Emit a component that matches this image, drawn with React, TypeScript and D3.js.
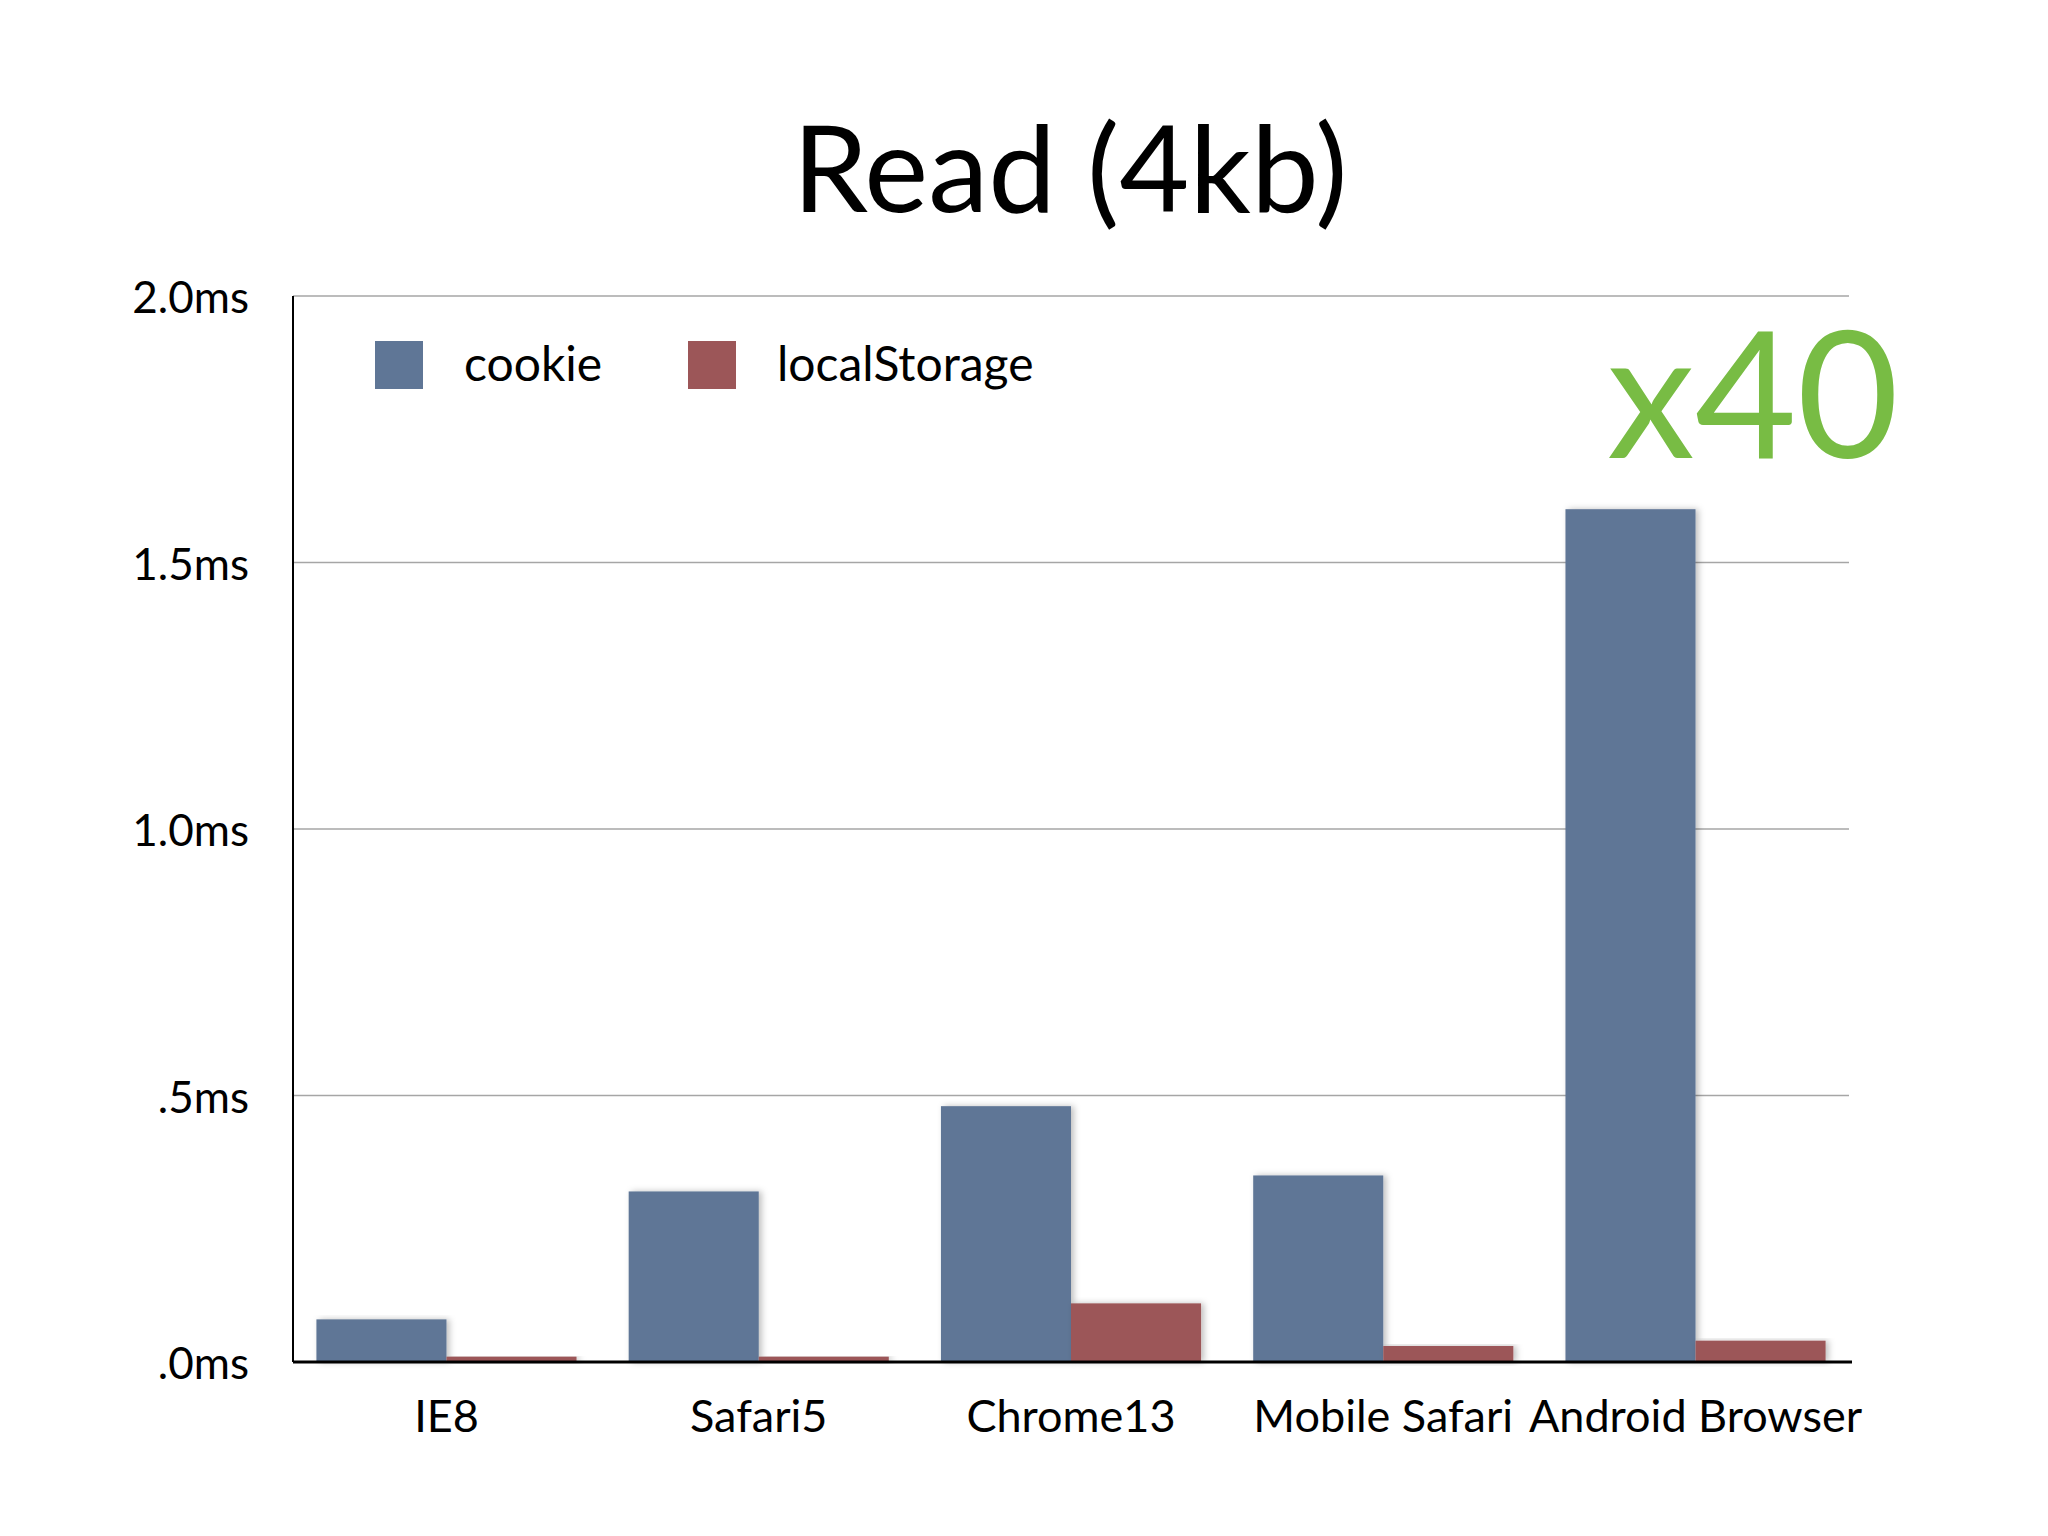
import React, { ReactElement, useEffect, useRef } from "react";
import * as d3 from "d3";

const categories = ["IE8", "Safari5", "Chrome13", "Mobile Safari", "Android Browser"];
const seriesNames = ["cookie", "localStorage"];
const cookieMs = [0.08, 0.32, 0.48, 0.35, 1.6];
const localStorageMs = [0.01, 0.01, 0.11, 0.03, 0.04];
const yTicks = [0, 0.5, 1.0, 1.5, 2.0];
const yTickLabels = [".0ms", ".5ms", "1.0ms", "1.5ms", "2.0ms"];

const colors = ["#5f7696", "#9c5658"];
const FONT = "Lato, 'Open Sans', sans-serif";

function App(): ReactElement {
  const ref = useRef<SVGSVGElement>(null);

  useEffect(() => {
    drawChart();
  });

  const drawChart = () => {
    const svg = d3.select(ref.current);
    svg.selectAll("*").remove();

    const left = 293;
    const right = 1852;
    const top = 296;
    const bottom = 1362;

    const x = d3
      .scaleBand()
      .domain(categories)
      .range([left, left + 1556])
      .paddingInner(0.167)
      .paddingOuter(0.075);
    const xSub = d3.scaleBand().domain(seriesNames).range([0, x.bandwidth()]);
    const y = d3.scaleLinear().domain([0, 2]).range([bottom, top]);

    const defs = svg.append("defs");
    const shadow = defs
      .append("filter")
      .attr("id", "barShadow")
      .attr("x", "-10%")
      .attr("y", "-10%")
      .attr("width", "130%")
      .attr("height", "130%");
    shadow
      .append("feDropShadow")
      .attr("dx", 3)
      .attr("dy", 0)
      .attr("stdDeviation", 3)
      .attr("flood-color", "#000")
      .attr("flood-opacity", 0.25);

    // title
    svg
      .append("text")
      .attr("x", 1070)
      .attr("y", 212)
      .attr("text-anchor", "middle")
      .attr("font-family", FONT)
      .attr("font-size", 121)
      .attr("fill", "#000")
      .text("Read (4kb)");

    // gridlines
    svg
      .selectAll(".grid")
      .data(yTicks.filter((t) => t > 0))
      .enter()
      .append("line")
      .attr("x1", left)
      .attr("x2", right - 3)
      .attr("y1", (d) => y(d))
      .attr("y2", (d) => y(d))
      .attr("stroke", "#a6a6a6")
      .attr("stroke-width", 1.6);

    // y tick labels
    svg
      .selectAll(".ytick")
      .data(yTicks)
      .enter()
      .append("text")
      .attr("x", 249)
      .attr("y", (d) => y(d) + 17)
      .attr("text-anchor", "end")
      .attr("font-family", FONT)
      .attr("font-size", 44)
      .attr("fill", "#000")
      .text((d, i) => yTickLabels[i]);

    // bars
    const rows = categories.map((c, i) => ({
      category: c,
      values: [cookieMs[i], localStorageMs[i]],
    }));
    const groups = svg
      .selectAll(".group")
      .data(rows)
      .enter()
      .append("g")
      .attr("transform", (d) => `translate(${x(d.category)},0)`);
    groups
      .selectAll("rect")
      .data((d) => d.values.map((v, j) => ({ name: seriesNames[j], value: v, idx: j })))
      .enter()
      .append("rect")
      .attr("x", (d) => xSub(d.name) || 0)
      .attr("width", xSub.bandwidth())
      .attr("y", (d) => y(d.value))
      .attr("height", (d) => bottom - y(d.value))
      .attr("fill", (d) => colors[d.idx])
      .attr("filter", "url(#barShadow)");

    // axes lines
    svg
      .append("line")
      .attr("x1", left)
      .attr("x2", left)
      .attr("y1", top)
      .attr("y2", bottom)
      .attr("stroke", "#000")
      .attr("stroke-width", 2);
    svg
      .append("line")
      .attr("x1", left)
      .attr("x2", right)
      .attr("y1", bottom)
      .attr("y2", bottom)
      .attr("stroke", "#000")
      .attr("stroke-width", 3);

    // category labels
    svg
      .selectAll(".xlabel")
      .data(categories)
      .enter()
      .append("text")
      .attr("x", (d) => (x(d) || 0) + x.bandwidth() / 2)
      .attr("y", 1432)
      .attr("text-anchor", "middle")
      .attr("font-family", FONT)
      .attr("font-size", 45)
      .attr("fill", "#000")
      .text((d) => d);

    // legend
    const legendX = [375, 688];
    const legend = svg
      .selectAll(".legend")
      .data(seriesNames)
      .enter()
      .append("g")
      .attr("transform", (d, i) => `translate(${legendX[i]},341)`);
    legend
      .append("rect")
      .attr("width", 48)
      .attr("height", 48)
      .attr("fill", (d, i) => colors[i]);
    legend
      .append("text")
      .attr("x", 89)
      .attr("y", 40)
      .attr("font-family", FONT)
      .attr("font-size", 48)
      .attr("fill", "#000")
      .text((d) => d);

    // annotation
    svg
      .append("text")
      .attr("x", 1607)
      .attr("y", 458)
      .attr("font-family", FONT)
      .attr("font-size", 176)
      .attr("fill", "#78bc44")
      .text("x40");
  };

  return (
    <div>
      <svg
        ref={ref}
        width={2048}
        height={1536}
        style={{ position: "absolute", left: 0, top: 0, background: "#fff" }}
      ></svg>
    </div>
  );
}

export default App;
